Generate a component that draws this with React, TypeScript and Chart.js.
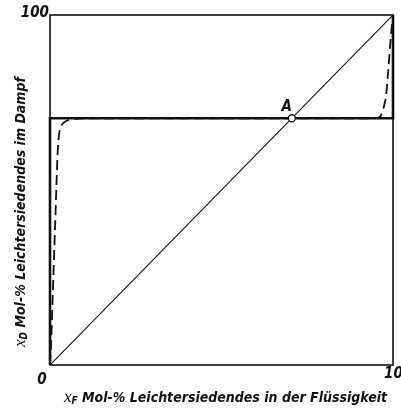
import React, { useEffect, useRef } from "react";
import { Chart, registerables } from "chart.js";

Chart.register(...registerables);

// Composition of the vapour (x_D) versus the liquid (x_F), mol-% of the lower boiler
const diagonal = [
  { x: 0, y: 0 },
  { x: 100, y: 100 },
];

// Idealised azeotropic equilibrium line (point A)
const azeotrope = 70.5;
const idealX = [0, 0, 100, 100];
const idealY = [0, azeotrope, azeotrope, 100];

// Real equilibrium curve (dashed)
const realX = [0, 0.4, 0.8, 1.5, 2.2, 2.6, 3.3, 4.5, 6.5, 10, 50, 90, 94, 96, 97, 97.5, 98, 98.6, 99.3, 100];
const realY = [0, 8, 20, 40, 60, 65.5, 68.3, 69.6, 70.2, 70.5, 70.5, 70.5, 70.5, 70.8, 72.5, 74.5, 77, 84, 93, 100];

const tickLabels = ["0", "100"];
const pointLabel = "A";
const xTitle = ["x", "F", " Mol-% Leichtersiedendes in der Flüssigkeit"];
const yTitle = ["x", "D", " Mol-% Leichtersiedendes im Dampf"];

const sansFont = "'Liberation Sans Narrow', 'DejaVu Sans Condensed', 'Arial Narrow', sans-serif";
const serifFont = "'Liberation Serif', 'DejaVu Serif', serif";

function drawTitle(ctx: CanvasRenderingContext2D, parts: string[], size: number) {
  const [sym, sub, rest] = parts;
  ctx.font = `italic ${size + 3}px ${serifFont}`;
  const w1 = ctx.measureText(sym).width;
  ctx.font = `italic bold ${size - 4}px ${sansFont}`;
  const w2 = ctx.measureText(sub).width;
  ctx.font = `italic bold ${size}px ${sansFont}`;
  const w3 = ctx.measureText(rest).width;
  const total = w1 + w2 + w3;
  let x = -total / 2;
  ctx.textBaseline = "alphabetic";
  ctx.textAlign = "left";
  ctx.font = `italic ${size + 3}px ${serifFont}`;
  ctx.fillText(sym, x, 0);
  x += w1;
  ctx.font = `italic bold ${size - 4}px ${sansFont}`;
  ctx.fillText(sub, x, 2);
  x += w2;
  ctx.font = `italic bold ${size}px ${sansFont}`;
  ctx.fillText(rest, x, 0);
}

const framePlugin = {
  id: "frameAndLabels",
  afterDraw(chart: any) {
    const { ctx, chartArea, scales } = chart;
    const { left, right, top, bottom } = chartArea;
    ctx.save();
    ctx.strokeStyle = "#111";
    ctx.fillStyle = "#111";
    ctx.lineWidth = 1.6;
    ctx.strokeRect(left, top, right - left, bottom - top);

    // tick labels
    ctx.font = `italic bold 15px ${sansFont}`;
    ctx.textBaseline = "alphabetic";
    ctx.textAlign = "right";
    ctx.fillText(tickLabels[1], left - 1, top + 2);
    ctx.textAlign = "center";
    ctx.fillText(tickLabels[0], left - 8, bottom + 19);
    ctx.textAlign = "left";
    ctx.fillText(tickLabels[1], right - 9, bottom + 13);

    // label of the azeotropic point
    const px = scales.x.getPixelForValue(azeotrope);
    const py = scales.y.getPixelForValue(azeotrope);
    ctx.textAlign = "center";
    ctx.font = `italic bold 15px ${sansFont}`;
    ctx.fillText(pointLabel, px - 5, py - 7);

    // axis titles
    ctx.save();
    ctx.translate((left + right) / 2 + 4, bottom + 37);
    drawTitle(ctx, xTitle, 14);
    ctx.restore();

    ctx.save();
    ctx.translate(25, (top + bottom) / 2 + 22);
    ctx.rotate(-Math.PI / 2);
    drawTitle(ctx, yTitle, 14);
    ctx.restore();

    ctx.restore();
  },
};

export default function App() {
  const canvasRef = useRef<HTMLCanvasElement | null>(null);

  useEffect(() => {
    if (!canvasRef.current) return;
    const chart = new Chart(canvasRef.current, {
      type: "scatter",
      data: {
        datasets: [
          {
            data: [{ x: azeotrope, y: azeotrope }],
            showLine: false,
            pointRadius: 3.5,
            pointBackgroundColor: "#fff",
            pointBorderColor: "#111",
            pointBorderWidth: 1.3,
          },
          {
            data: idealX.map((x, i) => ({ x, y: idealY[i] })),
            showLine: true,
            borderColor: "#111",
            borderWidth: 2.6,
            pointRadius: 0,
            tension: 0,
            clip: 6,
          },
          {
            data: diagonal,
            showLine: true,
            borderColor: "#111",
            borderWidth: 1.1,
            pointRadius: 0,
            tension: 0,
          },
          {
            data: realX.map((x, i) => ({ x, y: realY[i] })),
            showLine: true,
            borderColor: "#111",
            borderWidth: 1.8,
            borderDash: [10, 5],
            pointRadius: 0,
            cubicInterpolationMode: "monotone",
          },
        ],
      },
      options: {
        animation: false,
        responsive: true,
        maintainAspectRatio: false,
        layout: { padding: { left: 50, top: 15, right: 8, bottom: 44 } },
        plugins: { legend: { display: false }, tooltip: { enabled: false } },
        scales: {
          x: { type: "linear", min: 0, max: 100, display: false },
          y: { type: "linear", min: 0, max: 100, display: false },
        },
      },
      plugins: [framePlugin],
    });
    return () => chart.destroy();
  }, []);

  return (
    <div style={{ position: "absolute", left: 0, top: 0, width: 401, height: 409, background: "#fff" }}>
      <canvas ref={canvasRef} />
    </div>
  );
}
